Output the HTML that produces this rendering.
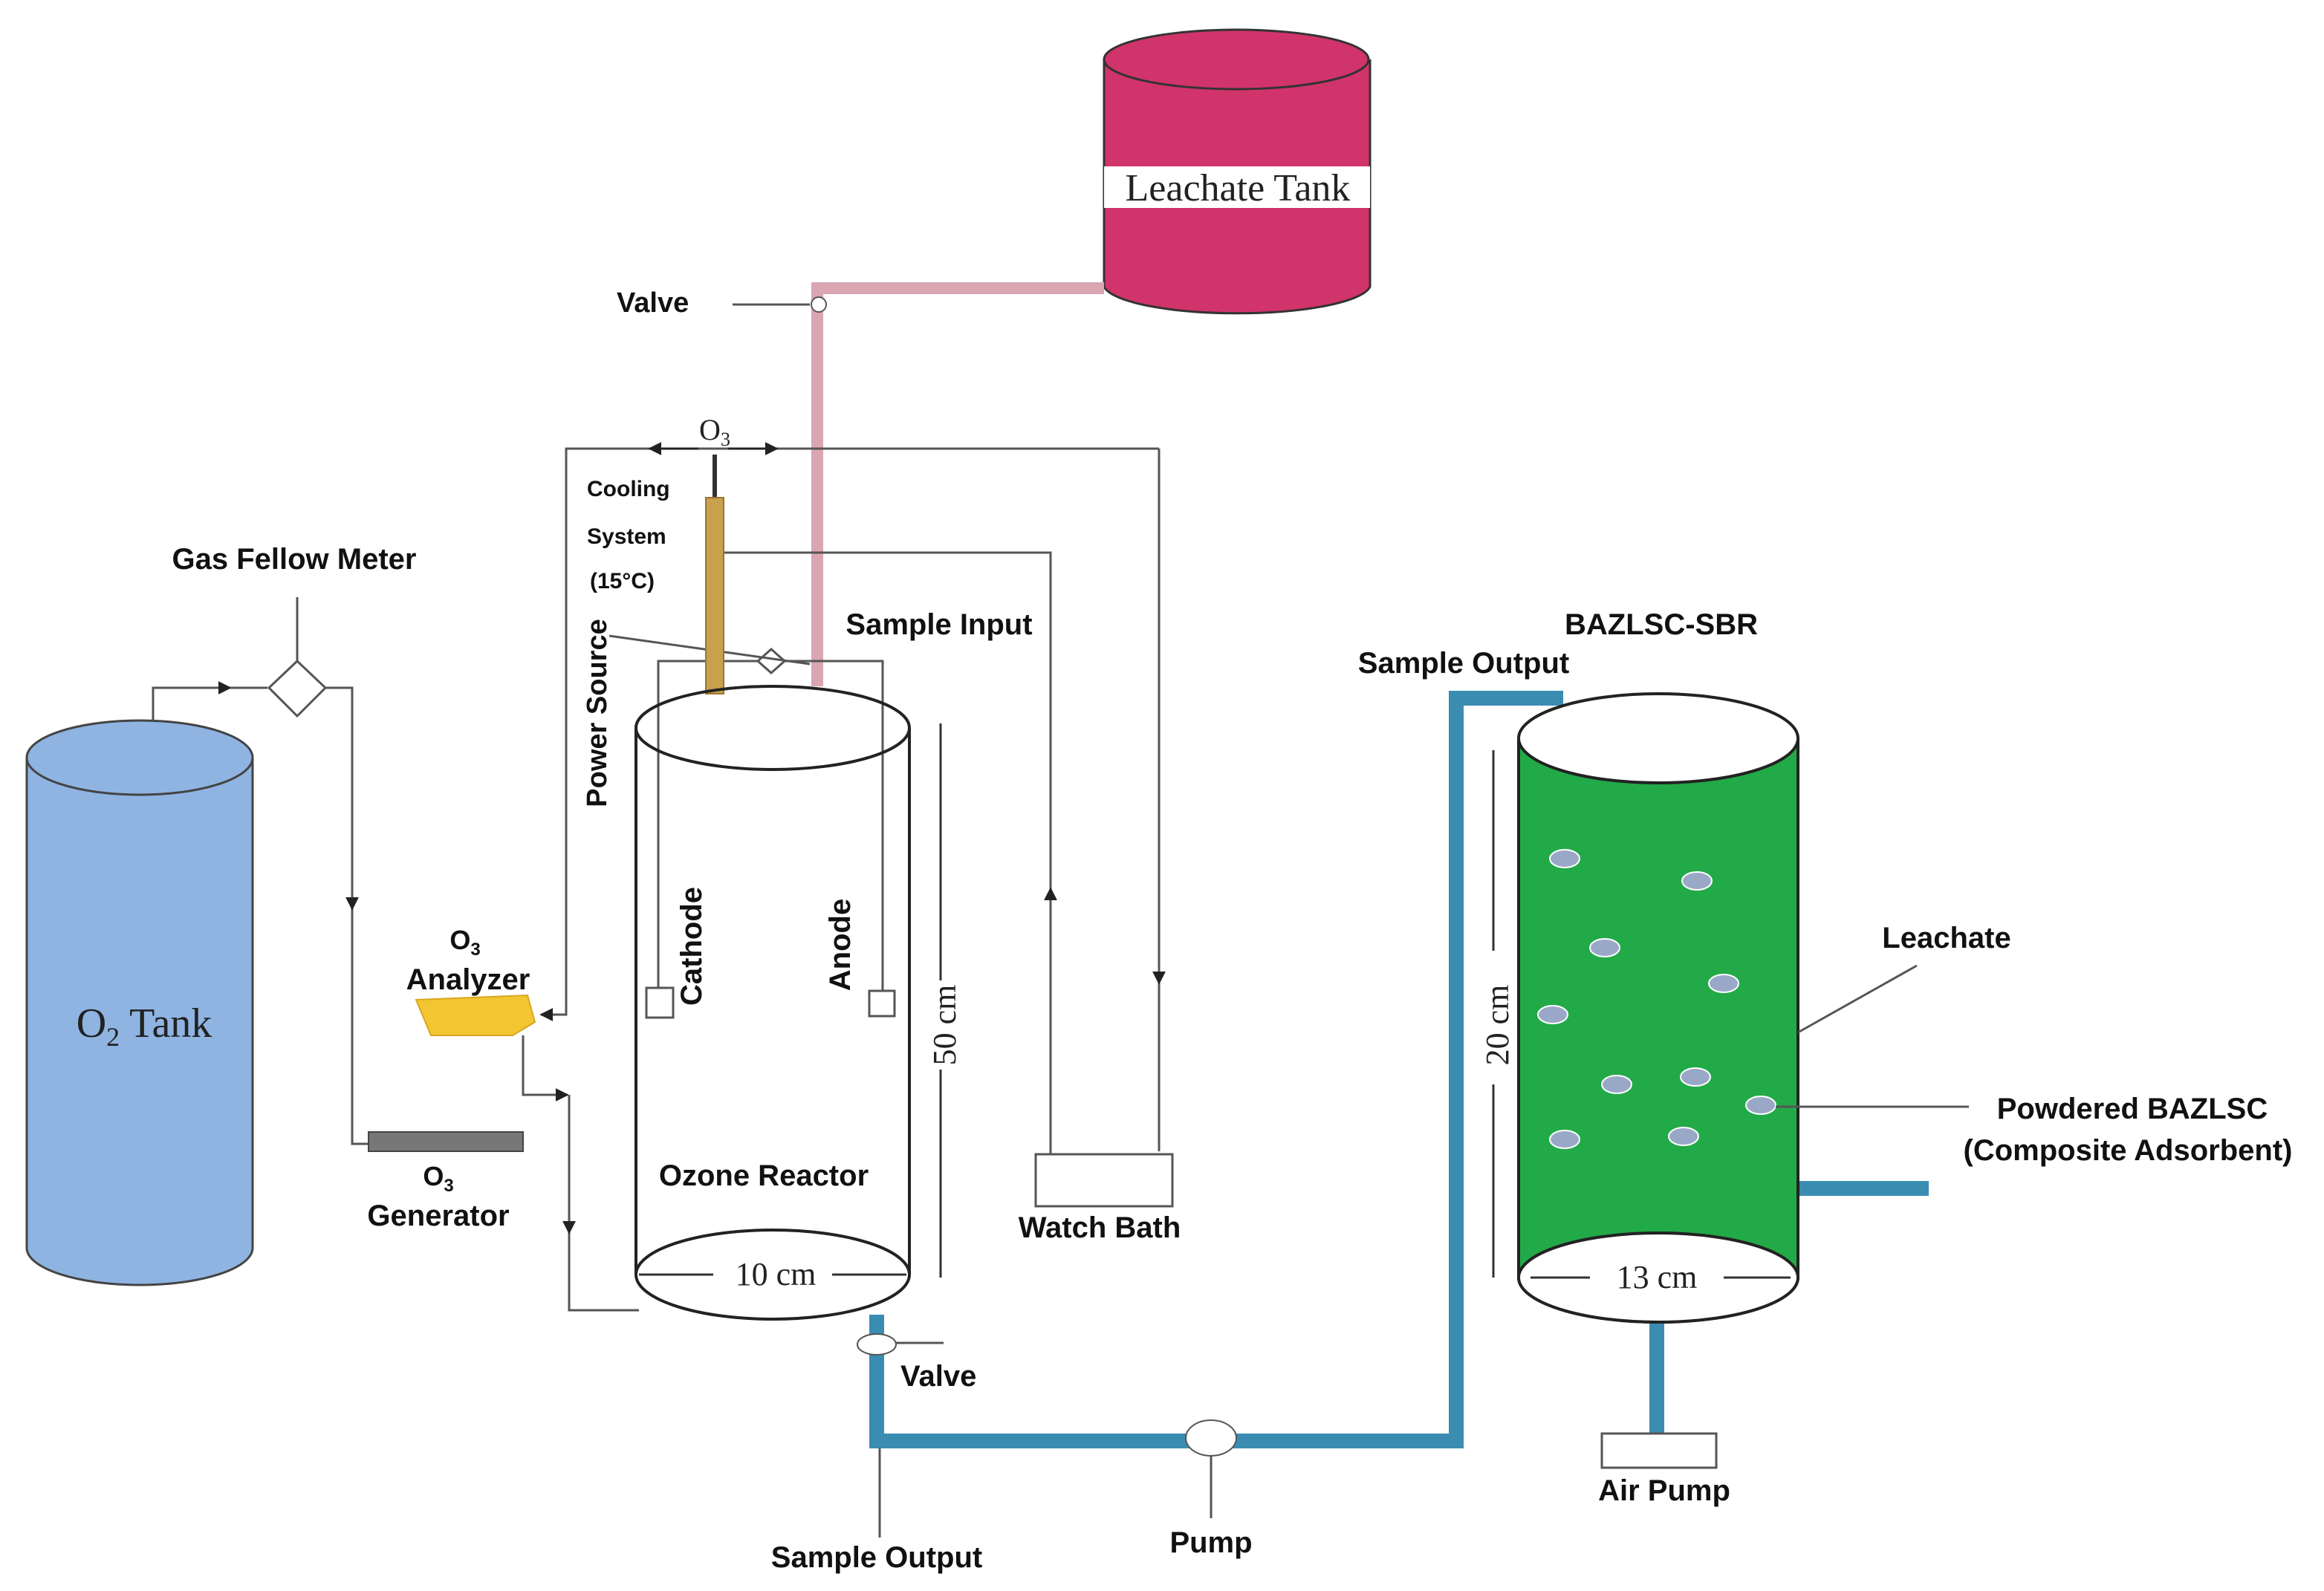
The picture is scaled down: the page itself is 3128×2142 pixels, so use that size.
<!DOCTYPE html>
<html><head><meta charset="utf-8"><style>
html,body{margin:0;padding:0;background:#fff;width:3128px;height:2142px;overflow:hidden}
svg{display:block}
.b{font-family:"Liberation Sans","DejaVu Sans",sans-serif;font-weight:bold;fill:#111}
.s{font-family:"Liberation Serif",serif;fill:#222}
</style></head><body>
<svg width="3128" height="2142" viewBox="0 0 1564 1071" xmlns="http://www.w3.org/2000/svg">
<defs>
<marker id="a" viewBox="0 0 10 10" refX="9" refY="5" markerWidth="6" markerHeight="6" orient="auto"><path d="M0,0L10,5L0,10z" fill="#222"/></marker>
</defs>
<g stroke="#555" stroke-width="1.5" fill="none">
<!-- Leachate tank -->
<path d="M743,40 V193 A90,20 0 0 0 922,193 V40" fill="#d1336b" stroke="#333"/>
<ellipse cx="832" cy="40" rx="89" ry="20" fill="#d1336b" stroke="#333"/>
<rect x="743" y="112" width="179" height="28" fill="#fff" stroke="none"/>
</g>
<text x="833" y="135" class="s" font-size="26" text-anchor="middle">Leachate Tank</text>
<!-- pink pipe -->
<path d="M743,194 H550 V462" stroke="#d9a6b2" stroke-width="8" fill="none"/>
<circle cx="551" cy="205" r="5" fill="#fff" stroke="#555"/>
<line x1="493" y1="205" x2="545" y2="205" stroke="#555" stroke-width="1.5"/>
<text x="415" y="210" class="b" font-size="19">Valve</text>
<!-- O3 line -->
<g stroke="#555" stroke-width="1.5" fill="none">
<path d="M780,302 V775"/>
<path d="M780,302 H381 V683 H364" marker-end="url(#a)"/>
<line x1="470" y1="302" x2="437" y2="302" marker-end="url(#a)" stroke="#222"/>
<line x1="490" y1="302" x2="523" y2="302" marker-end="url(#a)" stroke="#222"/>
<line x1="780" y1="640" x2="780" y2="662" marker-end="url(#a)"/>
<path d="M487,372 H707 V777"/>
<line x1="707" y1="610" x2="707" y2="598" marker-end="url(#a)"/>
<rect x="697" y="777" width="92" height="35" fill="#fff"/>
<!-- wires -->
<path d="M443,665 V445 H594 V667"/>
<rect x="435" y="665" width="18" height="20"/>
<rect x="585" y="667" width="17" height="17"/>
<path d="M510,445 L519,437 L528,445 L519,453z" fill="#fff"/>
<line x1="410" y1="428" x2="545" y2="447"/>
</g>
<text x="481" y="296" class="s" font-size="20" text-anchor="middle">O<tspan font-size="13" dy="4">3</tspan></text>
<line x1="481" y1="306" x2="481" y2="336" stroke="#333" stroke-width="3"/>
<rect x="475" y="335" width="12" height="132" fill="#c8a04e" stroke="#9a7630"/>
<text x="395" y="334" class="b" font-size="15">Cooling</text>
<text x="395" y="366" class="b" font-size="15">System</text>
<text x="397" y="396" class="b" font-size="15">(15°C)</text>
<text x="632" y="427" class="b" font-size="20" text-anchor="middle">Sample Input</text>
<text transform="translate(408,480) rotate(-90)" class="b" font-size="19" text-anchor="middle">Power Source</text>
<!-- Ozone reactor -->
<g stroke="#222" stroke-width="2" fill="none">
<line x1="428" y1="490" x2="428" y2="858"/>
<line x1="612" y1="490" x2="612" y2="858"/>
<ellipse cx="520" cy="490" rx="92" ry="28"/>
<ellipse cx="520" cy="858" rx="92" ry="30"/>
</g>
<text x="514" y="798" class="b" font-size="20" text-anchor="middle">Ozone Reactor</text>
<line x1="430" y1="858" x2="480" y2="858" stroke="#333" stroke-width="1.5"/>
<line x1="560" y1="858" x2="610" y2="858" stroke="#333" stroke-width="1.5"/>
<text x="522" y="865" class="s" font-size="22" text-anchor="middle">10 cm</text>
<line x1="633" y1="487" x2="633" y2="660" stroke="#333" stroke-width="1.5"/>
<line x1="633" y1="720" x2="633" y2="860" stroke="#333" stroke-width="1.5"/>
<text transform="translate(643,690) rotate(-90)" class="s" font-size="22" text-anchor="middle">50 cm</text>
<text transform="translate(472,637) rotate(-90)" class="b" font-size="20" text-anchor="middle">Cathode</text>
<text transform="translate(572,636) rotate(-90)" class="b" font-size="20" text-anchor="middle">Anode</text>
<rect x="697" y="777" width="92" height="35" fill="#fff" stroke="#555" stroke-width="1.5"/>
<text x="740" y="833" class="b" font-size="20" text-anchor="middle">Watch Bath</text>
<!-- O2 tank -->
<g stroke="#444" stroke-width="1.5">
<path d="M18,510 V840 A76,25 0 0 0 170,840 V510" fill="#8fb4e2"/>
<ellipse cx="94" cy="510" rx="76" ry="25" fill="#8fb4e2"/>
</g>
<text x="97" y="698" class="s" font-size="28" text-anchor="middle">O<tspan font-size="18" dy="6">2</tspan><tspan dy="-6"> Tank</tspan></text>
<text x="198" y="383" class="b" font-size="20" text-anchor="middle">Gas Fellow Meter</text>
<g stroke="#555" stroke-width="1.5" fill="none">
<line x1="200" y1="402" x2="200" y2="445"/>
<path d="M103,485 V463 H155" marker-end="url(#a)"/>
<line x1="155" y1="463" x2="180" y2="463"/>
<path d="M200,445 L219,463 L200,482 L181,463z" fill="#fff"/>
<path d="M219,463 H237 V770 H248"/>
<line x1="237" y1="600" x2="237" y2="612" marker-end="url(#a)"/>
<path d="M352,697 V737 H380" />
<line x1="365" y1="737" x2="382" y2="737" marker-end="url(#a)"/>
<path d="M383,737 V882 H430"/>
<line x1="383" y1="818" x2="383" y2="830" marker-end="url(#a)"/>
</g>
<text x="313" y="639" class="b" font-size="18" text-anchor="middle">O<tspan font-size="12" dy="4">3</tspan></text>
<text x="315" y="666" class="b" font-size="20" text-anchor="middle">Analyzer</text>
<path d="M280,673 L355,670 L360,688 L345,697 L290,697 Z" fill="#f3c631" stroke="#d9a520"/>
<rect x="248" y="762" width="104" height="13" fill="#777" stroke="#444"/>
<text x="295" y="798" class="b" font-size="18" text-anchor="middle">O<tspan font-size="12" dy="4">3</tspan></text>
<text x="295" y="825" class="b" font-size="20" text-anchor="middle">Generator</text>
<!-- blue pipe -->
<path d="M590,885 V970 H980 V470 H1052" stroke="#3a8db0" stroke-width="10" fill="none"/>
<ellipse cx="590" cy="905" rx="13" ry="7" fill="#fff" stroke="#555"/>
<line x1="603" y1="904" x2="635" y2="904" stroke="#555" stroke-width="1.5"/>
<text x="606" y="933" class="b" font-size="20">Valve</text>
<ellipse cx="815" cy="968" rx="17" ry="12" fill="#fff" stroke="#555"/>
<line x1="815" y1="980" x2="815" y2="1022" stroke="#555" stroke-width="1.5"/>
<text x="815" y="1045" class="b" font-size="20" text-anchor="middle">Pump</text>
<line x1="592" y1="975" x2="592" y2="1035" stroke="#555" stroke-width="1.5"/>
<text x="590" y="1055" class="b" font-size="20" text-anchor="middle">Sample Output</text>
<text x="985" y="453" class="b" font-size="20" text-anchor="middle">Sample Output</text>
<text x="1118" y="427" class="b" font-size="20" text-anchor="middle">BAZLSC-SBR</text>
<!-- SBR -->
<path d="M1210,800 H1298" stroke="#3a8db0" stroke-width="10"/>
<path d="M1115,890 V965" stroke="#3a8db0" stroke-width="10"/>
<rect x="1078" y="965" width="77" height="23" fill="#fff" stroke="#555" stroke-width="1.5"/>
<text x="1120" y="1010" class="b" font-size="20" text-anchor="middle">Air Pump</text>
<g stroke="#222" stroke-width="2">
<path d="M1022,497 V860 A94,30 0 0 0 1210,860 V497" fill="#22aa48"/>
<ellipse cx="1116" cy="497" rx="94" ry="30" fill="#fff"/>
<ellipse cx="1116" cy="860" rx="94" ry="30" fill="#fff"/>
</g>
<g fill="#9aa8c8" stroke="#fff" stroke-width="1">
<ellipse cx="1053" cy="578" rx="10" ry="6"/><ellipse cx="1142" cy="593" rx="10" ry="6"/>
<ellipse cx="1080" cy="638" rx="10" ry="6"/><ellipse cx="1160" cy="662" rx="10" ry="6"/>
<ellipse cx="1045" cy="683" rx="10" ry="6"/><ellipse cx="1088" cy="730" rx="10" ry="6"/>
<ellipse cx="1141" cy="725" rx="10" ry="6"/><ellipse cx="1185" cy="744" rx="10" ry="6"/>
<ellipse cx="1053" cy="767" rx="10" ry="6"/><ellipse cx="1133" cy="765" rx="10" ry="6"/>
</g>
<line x1="1030" y1="860" x2="1070" y2="860" stroke="#333" stroke-width="1.5"/>
<line x1="1160" y1="860" x2="1205" y2="860" stroke="#333" stroke-width="1.5"/>
<text x="1115" y="867" class="s" font-size="22" text-anchor="middle">13 cm</text>
<line x1="1005" y1="505" x2="1005" y2="640" stroke="#333" stroke-width="1.5"/>
<line x1="1005" y1="730" x2="1005" y2="860" stroke="#333" stroke-width="1.5"/>
<text transform="translate(1015,690) rotate(-90)" class="s" font-size="22" text-anchor="middle">20 cm</text>
<line x1="1210" y1="695" x2="1290" y2="650" stroke="#555" stroke-width="1.5"/>
<text x="1310" y="638" class="b" font-size="20" text-anchor="middle">Leachate</text>
<line x1="1195" y1="745" x2="1325" y2="745" stroke="#555" stroke-width="1.5"/>
<text x="1435" y="753" class="b" font-size="20" text-anchor="middle">Powdered BAZLSC</text>
<text x="1432" y="781" class="b" font-size="20" text-anchor="middle">(Composite Adsorbent)</text>
</svg>
</body></html>
